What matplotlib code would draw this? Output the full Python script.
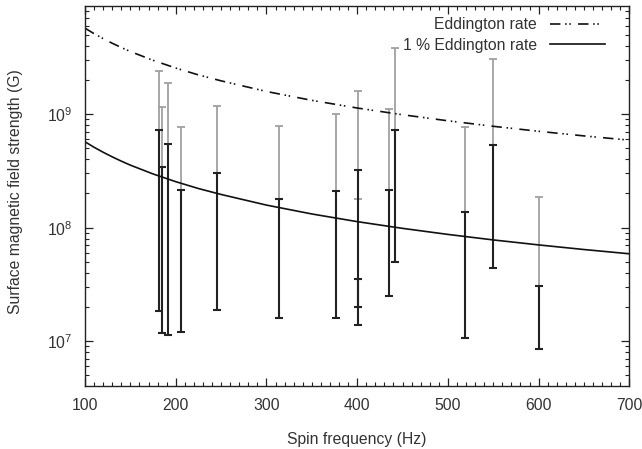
import numpy as np
import matplotlib
matplotlib.use("Agg")
import matplotlib.pyplot as plt
from matplotlib.ticker import LogLocator, MultipleLocator, NullFormatter

# Field-strength ranges per source (G)
freq = [182, 185, 191, 206, 245, 314, 377, 401, 401, 435, 442, 519, 550, 600]
black_lo = [1.85e7, 1.19e7, 1.13e7, 1.21e7, 1.88e7, 1.59e7, 1.61e7,
            1.99e7, 1.39e7, 2.50e7, 4.95e7, 1.06e7, 4.38e7, 8.53e6]
black_hi = [7.2e8, 3.41e8, 5.45e8, 2.14e8, 3.04e8, 1.79e8, 2.10e8,
            3.21e8, 3.53e7, 2.14e8, 7.23e8, 1.37e8, 5.30e8, 3.08e7]
gray_hi = [2.40e9, 1.15e9, 1.86e9, 7.64e8, 1.18e9, 7.83e8, 1.00e9,
           1.59e9, 1.79e8, 1.10e9, 3.79e9, 7.73e8, 3.07e9, 1.87e8]

# spin-equilibrium curves
curve_freq = [100, 110, 120, 130, 140, 150, 175, 200, 225, 250, 300, 350,
              400, 450, 500, 550, 600, 650, 700]
edd_B = [5.70e9, 5.10e9, 4.61e9, 4.20e9, 3.85e9, 3.55e9, 2.97e9, 2.54e9,
         2.21e9, 1.96e9, 1.58e9, 1.32e9, 1.13e9, 9.86e8, 8.72e8, 7.80e8,
         7.05e8, 6.42e8, 5.89e8]
edd1_B = [5.70e8, 5.10e8, 4.61e8, 4.20e8, 3.85e8, 3.55e8, 2.97e8, 2.54e8,
          2.21e8, 1.96e8, 1.58e8, 1.32e8, 1.13e8, 9.86e7, 8.72e7, 7.80e7,
          7.05e7, 6.42e7, 5.89e7]

TXT = "#333333"
FS = 11.3
plt.rcParams["font.family"] = ["Liberation Sans", "DejaVu Sans"]
plt.rcParams["font.size"] = FS
plt.rcParams["lines.scale_dashes"] = False

fig = plt.figure(figsize=(6.42, 4.49), dpi=100)
ax = fig.add_axes([85 / 642, 1 - 386 / 449, 544.3 / 642, 380 / 449])

fr = np.array(freq)
bl, bh, gh = np.array(black_lo), np.array(black_hi), np.array(gray_hi)

# gray (upper range) bars first, black bars on top
ax.errorbar(fr, gh, yerr=[gh - bh, np.zeros_like(gh)], fmt="none",
            ecolor="#a0a0a0", elinewidth=1.3, capsize=3.2, capthick=1.3)
ax.errorbar(fr, bh, yerr=[bh - bl, np.zeros_like(bh)], fmt="none",
            ecolor="#222222", elinewidth=1.5, capsize=3.2, capthick=1.5)

ax.plot(curve_freq, edd_B, color="#111111", lw=1.2,
        ls=(0, (7.5, 3.4, 1.1, 1.9, 1.1, 5.2)), label="Eddington rate")
ax.plot(curve_freq, edd1_B, color="#111111", lw=1.2, label="1 % Eddington rate")

ax.set_yscale("log")
ax.set_xlim(100, 700)
ax.set_ylim(4.04e6, 8.93e9)
ax.xaxis.set_major_locator(MultipleLocator(100))
ax.xaxis.set_minor_locator(MultipleLocator(10))
ax.yaxis.set_major_locator(LogLocator(base=10, numticks=10))
ax.yaxis.set_minor_locator(LogLocator(base=10, subs=np.arange(2, 10), numticks=20))
ax.yaxis.set_minor_formatter(NullFormatter())

ax.tick_params(which="both", direction="in", top=True, right=True,
               colors="#222222", labelcolor=TXT, labelsize=FS)
ax.tick_params(which="major", length=6, width=0.9)
ax.tick_params(which="minor", length=3.2, width=0.8)
ax.tick_params(axis="x", pad=9)
ax.tick_params(axis="y", pad=9)
for sp in ax.spines.values():
    sp.set_linewidth(1.0)
    sp.set_color("#222222")

ax.set_xlabel("Spin frequency (Hz)", color=TXT, labelpad=13)
ax.set_ylabel("Surface magnetic field strength (G)", color=TXT)
ax.yaxis.set_label_coords(-0.114, 0.512)

leg = ax.legend(loc="upper right", bbox_to_anchor=(0.956, 0.971), frameon=False,
                markerfirst=False, handlelength=3.5, handletextpad=0.85,
                labelspacing=0.35, borderpad=0, borderaxespad=0)
for t in leg.get_texts():
    t.set_color(TXT)

fig.savefig("out.png", dpi=100)
